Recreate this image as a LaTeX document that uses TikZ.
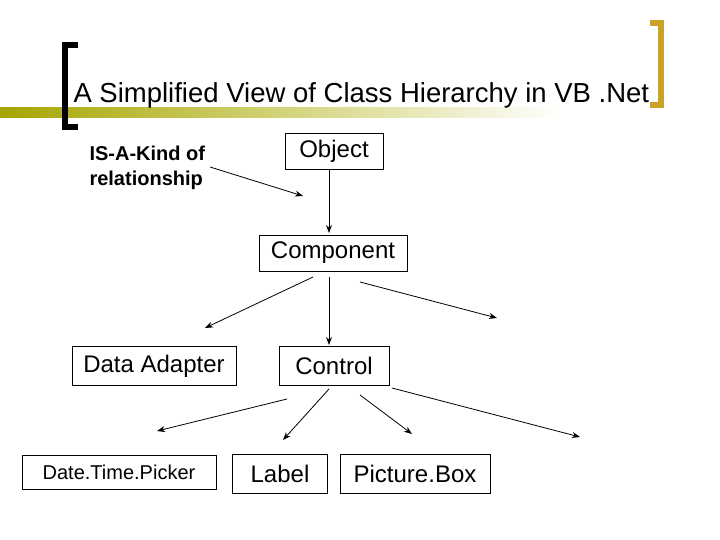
\documentclass[tikz,border=0pt]{standalone}
\usepackage{fontspec}
\setmainfont{Liberation Sans}
\usetikzlibrary{arrows.meta}
\definecolor{gold}{HTML}{C9A227}
\begin{document}
\begin{tikzpicture}[x=1pt,y=-1pt,
  box/.style={draw,thick,inner sep=0,font=\fontsize{24}{28}\selectfont},
  arr/.style={thick,-{Stealth[length=8pt,width=6pt]}}]
\useasboundingbox (0,0) rectangle (720,540);
\shade[left color=olive!70!white,right color=white] (0,108) rectangle (560,118);
\fill[black] (62,42) rectangle (68,130);
\fill[black] (62,42) rectangle (78,48); \fill[black] (62,124) rectangle (78,130);
\fill[gold] (658,20) rectangle (664,108);
\fill[gold] (650,20) rectangle (664,26); \fill[gold] (650,102) rectangle (664,108);
\node[anchor=west,font=\fontsize{27.5}{32}\selectfont] (t) at (70,95) {A Simplified View of Class Hierarchy in VB .Net};
\node[align=left,anchor=west,font=\fontsize{20}{25}\selectfont\bfseries] (isa) at (86,168) {IS-A-Kind of\\relationship};
\coordinate (isae) at (210,167); \coordinate (isat) at (303,196);
\node[box,minimum width=98,minimum height=36] (obj) at (334,151) {Object};
\node[box,minimum width=148,minimum height=36] (comp) at (333,253) {Component};
\node[box,minimum width=164,minimum height=39] (da) at (154,366) {Data Adapter};
\node[box,minimum width=110,minimum height=39] (ctl) at (334,366) {Control};
\node[box,minimum width=194,minimum height=34,font=\fontsize{20}{24}\selectfont] (dtp) at (119,472) {Date.Time.Picker};
\node[box,minimum width=95,minimum height=39] (lbl) at (280,474) {Label};
\node[box,minimum width=150,minimum height=39] (pb) at (415,474) {Picture.Box};
\coordinate (a1) at (313,277); \coordinate (a1t) at (205,328);
\coordinate (a3) at (360,282); \coordinate (a3t) at (497,318);
\coordinate (b1) at (287,399); \coordinate (b1t) at (157,431);
\coordinate (b2) at (329,389); \coordinate (b2t) at (283,440);
\coordinate (b3) at (360,395); \coordinate (b3t) at (412,434);
\coordinate (b4) at (392,388); \coordinate (b4t) at (580,437);
\coordinate (os) at (329,169); \coordinate (ct) at (329,233);
\coordinate (cs) at (329,277); \coordinate (kt) at (329,345);
\draw[arr] (isae) -- (isat);
\draw[arr] (os) -- (ct);
\draw[arr] (a1) -- (a1t);
\draw[arr] (cs) -- (kt);
\draw[arr] (a3) -- (a3t);
\draw[arr] (b1) -- (b1t);
\draw[arr] (b2) -- (b2t);
\draw[arr] (b3) -- (b3t);
\draw[arr] (b4) -- (b4t);
\end{tikzpicture}
\end{document}
